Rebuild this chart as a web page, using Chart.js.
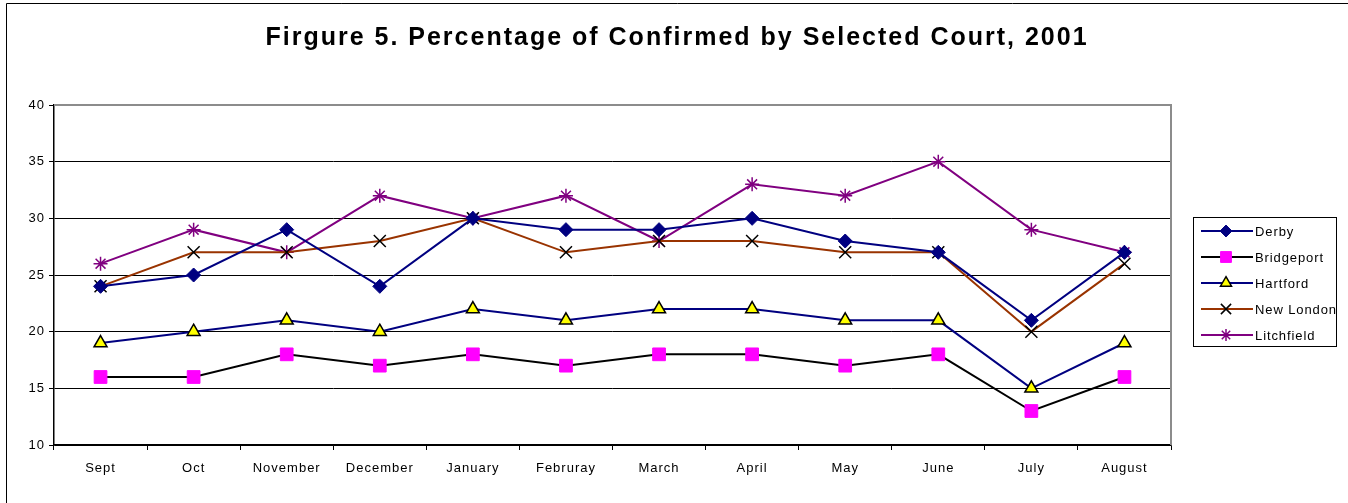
<!DOCTYPE html>
<html>
<head>
<meta charset="utf-8">
<script src="https://cdn.jsdelivr.net/npm/chart.js@4.4.0/dist/chart.umd.min.js"></script>
<style>
  html, body { margin: 0; padding: 0; background: #fff; }
  canvas { display: block; }
</style>
</head>
<body>
<canvas id="c" width="1348" height="503"></canvas>
<script>
const titleText = "Firgure 5. Percentage of Confirmed by Selected Court, 2001";
const months = ["Sept", "Oct", "November", "December", "January", "Februray", "March", "April", "May", "June", "July", "August"];
const yTicks = { min: 10, max: 40, step: 5 };

const derby      = [24, 25, 29, 24, 30, 29, 29, 30, 28, 27, 21, 27];
const bridgeport = [16, 16, 18, 17, 18, 17, 18, 18, 17, 18, 13, 16];
const hartford   = [19, 20, 21, 20, 22, 21, 22, 22, 21, 21, 15, 19];
const newLondon  = [24, 27, 27, 28, 30, 27, 28, 28, 27, 27, 20, 26];
const litchfield = [26, 29, 27, 32, 30, 32, 28, 33, 32, 35, 29, 27];

const FONT = "'Liberation Sans', Arial, sans-serif";

const datasets = [
  { label: "Derby", data: derby, borderColor: "#000080", backgroundColor: "#000080",
    pointStyle: "rectRot", pointRadius: 7, pointBorderColor: "#000080", pointBackgroundColor: "#000080", pointBorderWidth: 1 },
  { label: "Bridgeport", data: bridgeport, borderColor: "#000000", backgroundColor: "#FF00FF",
    pointStyle: "rect", pointRadius: 9, pointBorderColor: "#FF00FF", pointBackgroundColor: "#FF00FF", pointBorderWidth: 1 },
  { label: "Hartford", data: hartford, borderColor: "#000080", backgroundColor: "#FFFF00",
    pointStyle: "triangle", pointRadius: 7.5, pointBorderColor: "#000000", pointBackgroundColor: "#FFFF00", pointBorderWidth: 1.5 },
  { label: "New London", data: newLondon, borderColor: "#993300", backgroundColor: "#000000",
    pointStyle: "crossRot", pointRadius: 8.5, pointBorderColor: "#000000", pointBackgroundColor: "#000000", pointBorderWidth: 1.5 },
  { label: "Litchfield", data: litchfield, borderColor: "#800080", backgroundColor: "#800080",
    pointStyle: "star", pointRadius: 7, pointBorderColor: "#800080", pointBackgroundColor: "#800080", pointBorderWidth: 1.5 }
];
datasets.forEach(d => { d.borderWidth = 2; d.tension = 0; d.fill = false; d.pointHoverRadius = d.pointRadius; });

const setSpacing = (chart) => { chart.ctx.letterSpacing = "1px"; };

const decor = {
  id: "decor",
  afterInit: setSpacing,
  beforeLayout: setSpacing,
  beforeDraw(chart) {
    setSpacing(chart);
    const ctx = chart.ctx;
    ctx.save();
    ctx.fillStyle = "#fff";
    ctx.fillRect(0, 0, chart.width, chart.height);
    ctx.restore();
  },
  afterDatasetsDraw(chart) {
    const ctx = chart.ctx;
    const a = chart.chartArea;
    ctx.save();
    ctx.strokeStyle = "#8c8c8c";
    ctx.lineWidth = 2;
    ctx.beginPath();
    ctx.moveTo(a.left, a.top);
    ctx.lineTo(a.right, a.top);
    ctx.lineTo(a.right, a.bottom);
    ctx.stroke();
    ctx.restore();
  },
  afterDraw(chart) {
    const ctx = chart.ctx;
    ctx.save();
    // outer frame
    ctx.strokeStyle = "#000";
    ctx.lineWidth = 1;
    ctx.beginPath();
    ctx.moveTo(6.5, chart.height);
    ctx.lineTo(6.5, 3.5);
    ctx.lineTo(chart.width, 3.5);
    ctx.stroke();

    // title
    ctx.letterSpacing = "2px";
    ctx.fillStyle = "#000";
    ctx.font = "bold 25px " + FONT;
    ctx.textAlign = "center";
    ctx.textBaseline = "alphabetic";
    ctx.fillText(titleText, 677, 45);

    // legend
    const lx = 1193.5, ly = 217.5, lw = 143, lh = 129;
    ctx.strokeStyle = "#000";
    ctx.lineWidth = 1;
    ctx.strokeRect(lx, ly, lw, lh);
    ctx.restore();

    chart.data.datasets.forEach((ds, i) => {
      const y = 231 + i * 26;
      ctx.save();
      ctx.strokeStyle = ds.borderColor;
      ctx.lineWidth = 2;
      ctx.beginPath();
      ctx.moveTo(1201, y);
      ctx.lineTo(1253, y);
      ctx.stroke();
      ctx.fillStyle = ds.pointBackgroundColor;
      ctx.strokeStyle = ds.pointBorderColor;
      ctx.lineWidth = ds.pointBorderWidth;
      Chart.helpers.drawPoint(ctx, {
        pointStyle: ds.pointStyle,
        radius: ds.pointRadius * 0.85,
        borderWidth: ds.pointBorderWidth,
        rotation: 0
      }, 1226, y);
      ctx.letterSpacing = "0.9px";
      ctx.font = "13px " + FONT;
      ctx.textAlign = "left";
      ctx.textBaseline = "middle";
      ctx.fillStyle = "#000";
      ctx.fillText(ds.label, 1255, y + 1);
      ctx.restore();
    });
  }
};

new Chart(document.getElementById("c"), {
  type: "line",
  data: { labels: months, datasets },
  options: {
    responsive: false,
    devicePixelRatio: 1,
    animation: false,
    events: [],
    layout: { padding: { top: 105, right: 177, bottom: 0, left: 0 } },
    plugins: { legend: { display: false }, title: { display: false }, tooltip: { enabled: false } },
    scales: {
      x: {
        offset: true,
        grid: { display: true, drawOnChartArea: false, drawTicks: true, tickLength: 5, offset: true, color: "#000", lineWidth: 1 },
        border: { display: true, color: "#000", width: 1.5 },
        ticks: { color: "#000", font: { family: FONT, size: 13 }, padding: 11, maxRotation: 0, autoSkip: false },
        afterFit(s) { s.height = 58; }
      },
      y: {
        min: yTicks.min, max: yTicks.max,
        grid: { color: "#000", lineWidth: 1, tickLength: 5, drawTicks: true },
        border: { display: true, color: "#000", width: 1.5 },
        ticks: { stepSize: yTicks.step, color: "#000", font: { family: FONT, size: 13 }, padding: 4 },
        afterFit(s) { s.width = 54; }
      }
    }
  },
  plugins: [decor]
});
</script>
</body>
</html>
